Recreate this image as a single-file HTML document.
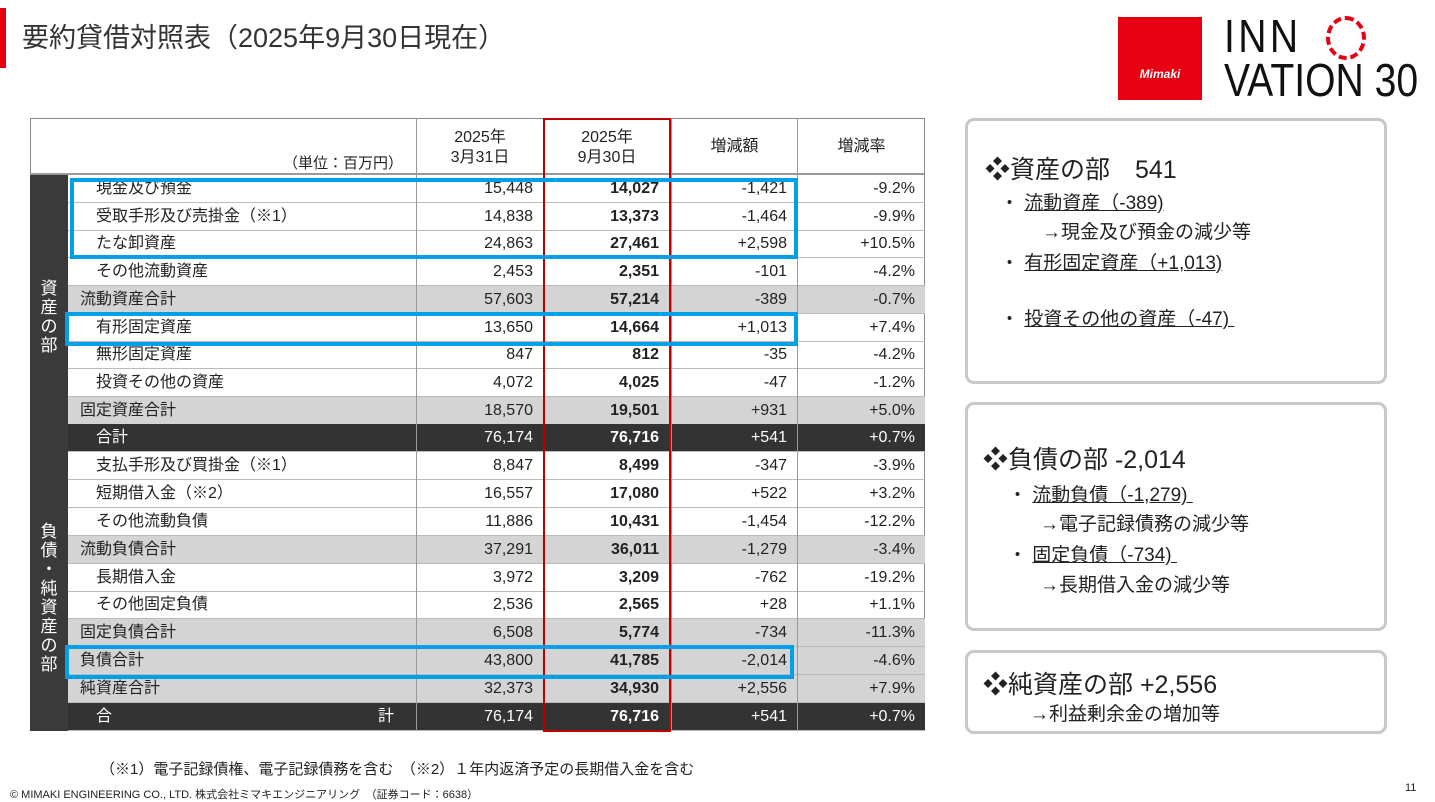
<!DOCTYPE html>
<html><head><meta charset="utf-8"><style>
*{margin:0;padding:0;box-sizing:border-box}
body{width:1435px;height:802px;background:#fff;position:relative;overflow:hidden;font-family:"Liberation Sans","Noto Sans CJK JP",sans-serif;color:#222}
.a{position:absolute}
.r{position:absolute;left:68px;width:857px;height:28px;font-size:16px;line-height:28px;border-bottom:1px solid #bbb}
.r span{position:absolute;top:0}
.l{left:28px}.g .l{left:12px}
.c1{right:392px}.c2{right:266px;font-weight:bold}.c3{right:138px}.c4{right:10px}
.g{background:#d4d4d4}
.d{background:#333;color:#fff}
.side{position:absolute;left:30px;width:38px;background:#3a3a3a;color:#fff;font-size:17px;line-height:19px;text-align:center}
.box{position:absolute;left:965px;width:422px;border:3px solid #c8c8c8;border-radius:9px}
.t{position:absolute;font-size:19px;color:#222}
.u{text-decoration:underline}
.logo{position:absolute;left:1224px;font-size:46px;line-height:44px;color:#111;transform:scaleX(0.85);transform-origin:left top;white-space:nowrap}
</style></head><body>
<div class="a" style="left:0;top:8px;width:6px;height:60px;background:#e60012"></div>
<div class="a" style="left:22px;top:16px;font-size:27px;color:#333">要約貸借対照表（2025年9月30日現在）</div>
<div class="a" style="left:1118px;top:17px;width:84px;height:83px;background:#e60012;color:#fff;font-size:12px;font-weight:bold;font-style:italic;text-align:center;line-height:114px">Mimaki</div>
<div class="logo" style="top:14px;letter-spacing:4px">INN</div>
<div class="logo" style="top:58px">VATION 30</div>
<div class="a" style="left:1326px;top:16px;width:40px;height:44px;border:4px dashed #e60012;border-radius:50%"></div>

<div class="a" style="left:30px;top:118px;width:895px;height:613px;border:1px solid #888"></div>
<div class="a" style="left:30px;top:118px;width:895px;height:57px;border-bottom:2px solid #999"></div>
<div class="a" style="left:283px;top:152px;font-size:15px">（単位：百万円）</div>
<div class="a" style="left:416px;top:118px;width:127px;height:57px;text-align:center;font-size:16px;line-height:20px;padding-top:10px;border-left:1px solid #999">2025年<br>3月31日</div>
<div class="a" style="left:543px;top:118px;width:128px;height:57px;text-align:center;font-size:16px;line-height:20px;padding-top:10px">2025年<br>9月30日</div>
<div class="a" style="left:671px;top:118px;width:126px;height:57px;text-align:center;font-size:16px;line-height:57px;border-left:1px solid #999">増減額</div>
<div class="a" style="left:797px;top:118px;width:128px;height:57px;text-align:center;font-size:16px;line-height:57px;border-left:1px solid #999">増減率</div>

<div class="side" style="top:175px;height:277px;padding-top:104px">資<br>産<br>の<br>部</div>
<div class="side" style="top:452px;height:279px;padding-top:70px">負<br>債<br>・<br>純<br>資<br>産<br>の<br>部</div>

<div class="r" style="top:175px"><span class="l">現金及び預金</span><span class="c1">15,448</span><span class="c2">14,027</span><span class="c3">-1,421</span><span class="c4">-9.2%</span></div>
<div class="r" style="top:203px"><span class="l">受取手形及び売掛金（※1）</span><span class="c1">14,838</span><span class="c2">13,373</span><span class="c3">-1,464</span><span class="c4">-9.9%</span></div>
<div class="r" style="top:230px"><span class="l">たな卸資産</span><span class="c1">24,863</span><span class="c2">27,461</span><span class="c3">+2,598</span><span class="c4">+10.5%</span></div>
<div class="r" style="top:258px"><span class="l">その他流動資産</span><span class="c1">2,453</span><span class="c2">2,351</span><span class="c3">-101</span><span class="c4">-4.2%</span></div>
<div class="r g" style="top:286px"><span class="l">流動資産合計</span><span class="c1">57,603</span><span class="c2">57,214</span><span class="c3">-389</span><span class="c4">-0.7%</span></div>
<div class="r" style="top:314px"><span class="l">有形固定資産</span><span class="c1">13,650</span><span class="c2">14,664</span><span class="c3">+1,013</span><span class="c4">+7.4%</span></div>
<div class="r" style="top:341px"><span class="l">無形固定資産</span><span class="c1">847</span><span class="c2">812</span><span class="c3">-35</span><span class="c4">-4.2%</span></div>
<div class="r" style="top:369px"><span class="l">投資その他の資産</span><span class="c1">4,072</span><span class="c2">4,025</span><span class="c3">-47</span><span class="c4">-1.2%</span></div>
<div class="r g" style="top:397px"><span class="l">固定資産合計</span><span class="c1">18,570</span><span class="c2">19,501</span><span class="c3">+931</span><span class="c4">+5.0%</span></div>
<div class="r d" style="top:424px"><span class="l">合計</span><span class="c1">76,174</span><span class="c2">76,716</span><span class="c3">+541</span><span class="c4">+0.7%</span></div>

<div class="r" style="top:452px"><span class="l">支払手形及び買掛金（※1）</span><span class="c1">8,847</span><span class="c2">8,499</span><span class="c3">-347</span><span class="c4">-3.9%</span></div>
<div class="r" style="top:480px"><span class="l">短期借入金（※2）</span><span class="c1">16,557</span><span class="c2">17,080</span><span class="c3">+522</span><span class="c4">+3.2%</span></div>
<div class="r" style="top:508px"><span class="l">その他流動負債</span><span class="c1">11,886</span><span class="c2">10,431</span><span class="c3">-1,454</span><span class="c4">-12.2%</span></div>
<div class="r g" style="top:536px"><span class="l">流動負債合計</span><span class="c1">37,291</span><span class="c2">36,011</span><span class="c3">-1,279</span><span class="c4">-3.4%</span></div>
<div class="r" style="top:564px"><span class="l">長期借入金</span><span class="c1">3,972</span><span class="c2">3,209</span><span class="c3">-762</span><span class="c4">-19.2%</span></div>
<div class="r" style="top:591px"><span class="l">その他固定負債</span><span class="c1">2,536</span><span class="c2">2,565</span><span class="c3">+28</span><span class="c4">+1.1%</span></div>
<div class="r g" style="top:619px"><span class="l">固定負債合計</span><span class="c1">6,508</span><span class="c2">5,774</span><span class="c3">-734</span><span class="c4">-11.3%</span></div>
<div class="r g" style="top:647px"><span class="l">負債合計</span><span class="c1">43,800</span><span class="c2">41,785</span><span class="c3">-2,014</span><span class="c4">-4.6%</span></div>
<div class="r g" style="top:675px"><span class="l">純資産合計</span><span class="c1">32,373</span><span class="c2">34,930</span><span class="c3">+2,556</span><span class="c4">+7.9%</span></div>
<div class="r d" style="top:703px"><span class="l">合</span><span style="left:310px">計</span><span class="c1">76,174</span><span class="c2">76,716</span><span class="c3">+541</span><span class="c4">+0.7%</span></div>

<div class="a" style="left:416px;top:175px;width:1px;height:556px;background:#999"></div>
<div class="a" style="left:671px;top:175px;width:1px;height:556px;background:#999"></div>
<div class="a" style="left:797px;top:175px;width:1px;height:556px;background:#999"></div>
<div class="a" style="left:543px;top:118px;width:128px;height:614px;border:2px solid #c00000"></div>

<div class="a" style="left:70px;top:178px;width:728px;height:81px;border:4px solid #00a0e9"></div>
<div class="a" style="left:65px;top:312px;width:733px;height:34px;border:4px solid #00a0e9"></div>
<div class="a" style="left:65px;top:645px;width:729px;height:34px;border:4px solid #00a0e9"></div>

<div class="a" style="left:100px;top:758px;font-size:15px">（※1）電子記録債権、電子記録債務を含む　（※2）１年内返済予定の長期借入金を含む</div>
<div class="a" style="left:10px;top:786px;font-size:11px">© MIMAKI ENGINEERING CO., LTD. 株式会社ミマキエンジニアリング　（証券コード：6638）</div>
<div class="a" style="left:1405px;top:782px;font-size:11px">11</div>

<div class="box" style="top:118px;height:266px"></div>
<div class="t" style="left:985px;top:150px;font-size:25px">❖資産の部　541</div>
<div class="t" style="left:1000px;top:188px">・ <span class="u">流動資産（-389)</span></div>
<div class="t" style="left:1042px;top:217px">→現金及び預金の減少等</div>
<div class="t" style="left:1000px;top:248px">・ <span class="u">有形固定資産（+1,013)</span></div>
<div class="t" style="left:1000px;top:304px">・ <span class="u">投資その他の資産（-47)&nbsp;</span></div>

<div class="box" style="top:402px;height:229px"></div>
<div class="t" style="left:983px;top:440px;font-size:25px">❖負債の部 -2,014</div>
<div class="t" style="left:1008px;top:480px">・ <span class="u">流動負債（-1,279)&nbsp;</span></div>
<div class="t" style="left:1040px;top:509px">→電子記録債務の減少等</div>
<div class="t" style="left:1008px;top:540px">・ <span class="u">固定負債（-734)&nbsp;</span></div>
<div class="t" style="left:1040px;top:570px">→長期借入金の減少等</div>

<div class="box" style="top:650px;height:84px"></div>
<div class="t" style="left:983px;top:665px;font-size:25px">❖純資産の部 +2,556</div>
<div class="t" style="left:1030px;top:699px">→利益剰余金の増加等</div>
</body></html>
